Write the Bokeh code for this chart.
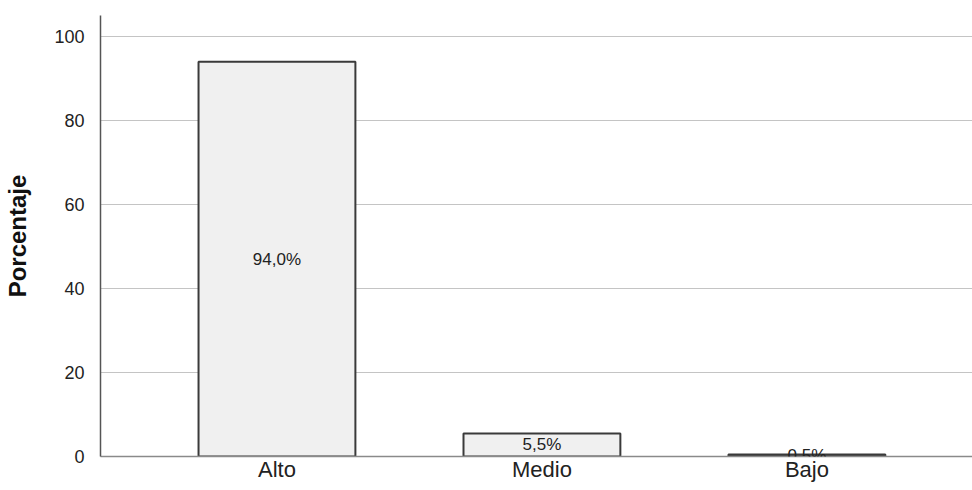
from bokeh.plotting import figure
from bokeh.models import Range1d, FixedTicker, ColumnDataSource, LabelSet
from bokeh.core.properties import value
from bokeh.embed import file_html
from bokeh.resources import INLINE

categories = ["Alto", "Medio", "Bajo"]
percentages = [94.0, 5.5, 0.5]
value_labels = ["94,0%", "5,5%", "0,5%"]
y_ticks = [0, 20, 40, 60, 80, 100]

xs = list(range(len(categories)))
src = ColumnDataSource(dict(
    x=xs, top=percentages, label=value_labels,
    ymid=[v / 2 for v in percentages],
))

p = figure(width=972, height=490, output_backend="svg", toolbar_location=None,
           x_range=Range1d(-0.666, 2.625), y_range=Range1d(0, 105),
           min_border_left=100, min_border_right=0, min_border_top=15, min_border_bottom=34)
p.outline_line_color = None
p.background_fill_color = "white"

p.vbar(x="x", top="top", bottom=0, width=0.592, source=src,
       fill_color="#f0f0f0", line_color="#3a3a3a", line_width=2)

labels = LabelSet(x="x", y="ymid", text="label", source=src,
                  text_align="center", text_baseline="middle",
                  text_font=value("Liberation Sans"), text_font_size="17px", text_color="#222222")
p.add_layout(labels)

p.xgrid.visible = False
p.ygrid.ticker = FixedTicker(ticks=y_ticks)
p.ygrid.grid_line_color = "#c4c4c4"
p.ygrid.grid_line_width = 1

p.yaxis.ticker = FixedTicker(ticks=y_ticks)
p.yaxis.axis_label = "Porcentaje"
p.yaxis.axis_label_text_font = "Liberation Sans"
p.yaxis.axis_label_text_font_style = "bold"
p.yaxis.axis_label_text_font_size = "24px"
p.yaxis.axis_label_text_color = "#111111"
p.yaxis.axis_label_standoff = 20
p.yaxis.major_label_text_font = "Liberation Sans"
p.yaxis.major_label_text_font_size = "18px"
p.yaxis.major_label_text_color = "#222222"
p.yaxis.major_label_standoff = 10
p.yaxis.major_tick_line_color = None
p.yaxis.minor_tick_line_color = None
p.yaxis.axis_line_color = "#555555"
p.yaxis.axis_line_width = 1.5

p.xaxis.ticker = FixedTicker(ticks=xs)
p.xaxis.major_label_overrides = {i: c for i, c in zip(xs, categories)}
p.xaxis.major_label_text_font = "Liberation Sans"
p.xaxis.major_label_text_font_size = "22px"
p.xaxis.major_label_text_color = "#222222"
p.xaxis.major_label_standoff = 0
p.xaxis.major_tick_out = 0
p.xaxis.major_tick_in = 0
p.xaxis.major_tick_line_color = None
p.xaxis.minor_tick_line_color = None
p.xaxis.axis_line_color = "#8a8a8a"
p.xaxis.axis_line_width = 1.5

open("out.html", "w").write(file_html(p, INLINE))
